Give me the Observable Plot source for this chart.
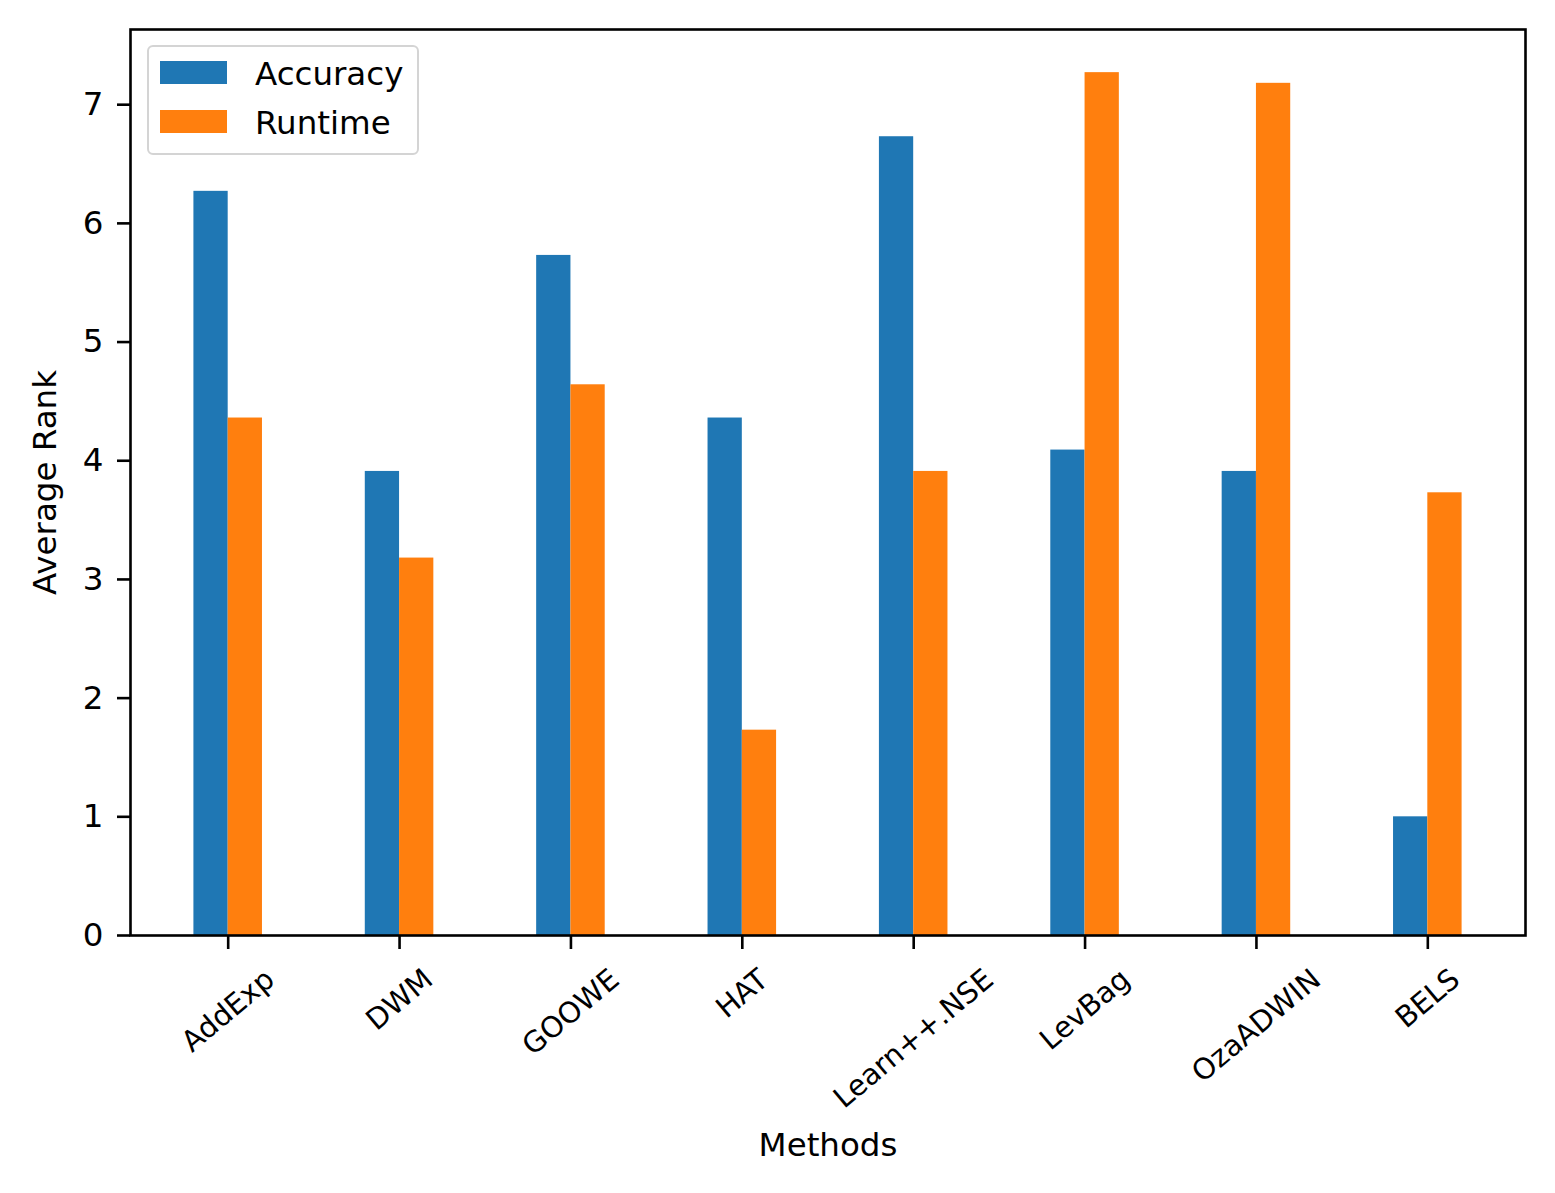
<!DOCTYPE html>
<html>
<head>
<meta charset="utf-8">
<script src="https://cdn.jsdelivr.net/npm/d3@7"></script>
<script src="https://cdn.jsdelivr.net/npm/@observablehq/plot@0.6"></script>
<style>
  html, body { margin: 0; padding: 0; background: white; }
  #wrap { position: relative; width: 1555px; height: 1193px; font-family: "DejaVu Sans", sans-serif; }
  #legend { position: absolute; left: 147px; top: 45px; width: 272px; height: 110px; box-sizing: border-box;
            border: 2.5px solid #d4d4d4; border-radius: 6px; background: rgba(255,255,255,0.85); }
  .lg-patch { position: absolute; left: 11px; width: 67px; height: 23px; }
  .lg-text { position: absolute; left: 106px; font-size: 32.5px; line-height: 1; white-space: nowrap; color: #000; }
</style>
</head>
<body>
<div id="wrap"><div id="chart"></div><div id="legend"></div></div>
<script>
const methods = ["AddExp", "DWM", "GOOWE", "HAT", "Learn++.NSE", "LevBag", "OzaADWIN", "BELS"];
const accuracy = [6.27, 3.91, 5.73, 4.36, 6.73, 4.09, 3.91, 1.00];
const runtime  = [4.36, 3.18, 4.64, 1.73, 3.91, 7.27, 7.18, 3.73];
const seriesNames = ["Accuracy", "Runtime"];
const seriesColors = ["#1f77b4", "#ff7f0e"];
const yTicks = [0, 1, 2, 3, 4, 5, 6, 7];
const xLabel = "Methods";
const yLabel = "Average Rank";

const barWidth = 0.2;
const fontSize = 32.5;
const xTickFontSize = 29;
const xTickRotate = 40;

const rows = methods.flatMap((m, i) => [
  {i, m, s: seriesNames[0], v: accuracy[i], x1: i - barWidth, x2: i},
  {i, m, s: seriesNames[1], v: runtime[i], x1: i, x2: i + barWidth}
]);

// measure text for matplotlib-like rotated label placement (bbox top aligned under tick)
const ctx = document.createElement("canvas").getContext("2d");
ctx.font = `${xTickFontSize}px "DejaVu Sans"`;
const rot = xTickRotate * Math.PI / 180;
const lineH = 1.164 * xTickFontSize;
const labelTop = 27;
const labelMarks = methods.map((m, i) => {
  const w = ctx.measureText(m).width;
  const h = w * Math.sin(rot) + lineH * Math.cos(rot);
  return Plot.text([m], {
    x: () => i, text: d => d, frameAnchor: "bottom", dy: labelTop + h / 2,
    rotate: -xTickRotate, textAnchor: "middle", lineAnchor: "middle", fontSize: xTickFontSize, fill: "black"
  });
});

const span = methods.length - 1 + 2 * barWidth;
const xMin = -barWidth - 0.05 * span;
const xMax = methods.length - 1 + barWidth + 0.05 * span;
const yMax = 1.05 * d3.max([...accuracy, ...runtime]);

const chart = Plot.plot({
  width: 1555,
  height: 1193,
  marginLeft: 130,
  marginRight: 30,
  marginTop: 29,
  marginBottom: 258,
  style: {fontFamily: '"DejaVu Sans", sans-serif', fontSize: `${fontSize}px`, color: "black", background: "white"},
  x: {domain: [xMin, xMax]},
  y: {domain: [0, yMax]},
  color: {domain: seriesNames, range: seriesColors},
  marks: [
    Plot.rectY(rows, {x1: "x1", x2: "x2", y: "v", fill: "s"}),
    Plot.axisY(yTicks, {tickSize: 13, tickPadding: 14, fontSize, strokeWidth: 2.6, label: null, tickFormat: d => String(d)}),
    Plot.axisX(methods.map((_, i) => i), {tickSize: 14, strokeWidth: 2.6, label: null, tickFormat: () => ""}),
    ...labelMarks,
    Plot.text([yLabel], {text: d => d, frameAnchor: "left", dx: -85, rotate: -90, textAnchor: "middle", lineAnchor: "middle", fontSize, fill: "black"}),
    Plot.text([xLabel], {text: d => d, frameAnchor: "bottom", dy: 210, textAnchor: "middle", lineAnchor: "middle", fontSize, fill: "black"}),
    Plot.frame({stroke: "black", strokeWidth: 2.6})
  ]
});
document.getElementById("chart").appendChild(chart);

// legend (inside the plot area, top-left)
const legend = document.getElementById("legend");
seriesNames.forEach((name, k) => {
  const patch = document.createElement("div");
  patch.className = "lg-patch";
  patch.style.background = seriesColors[k];
  patch.style.top = (14 + k * 49) + "px";
  legend.appendChild(patch);
  const t = document.createElement("div");
  t.className = "lg-text";
  t.textContent = name;
  t.style.top = (11 + k * 49) + "px";
  legend.appendChild(t);
});
</script>
</body>
</html>
